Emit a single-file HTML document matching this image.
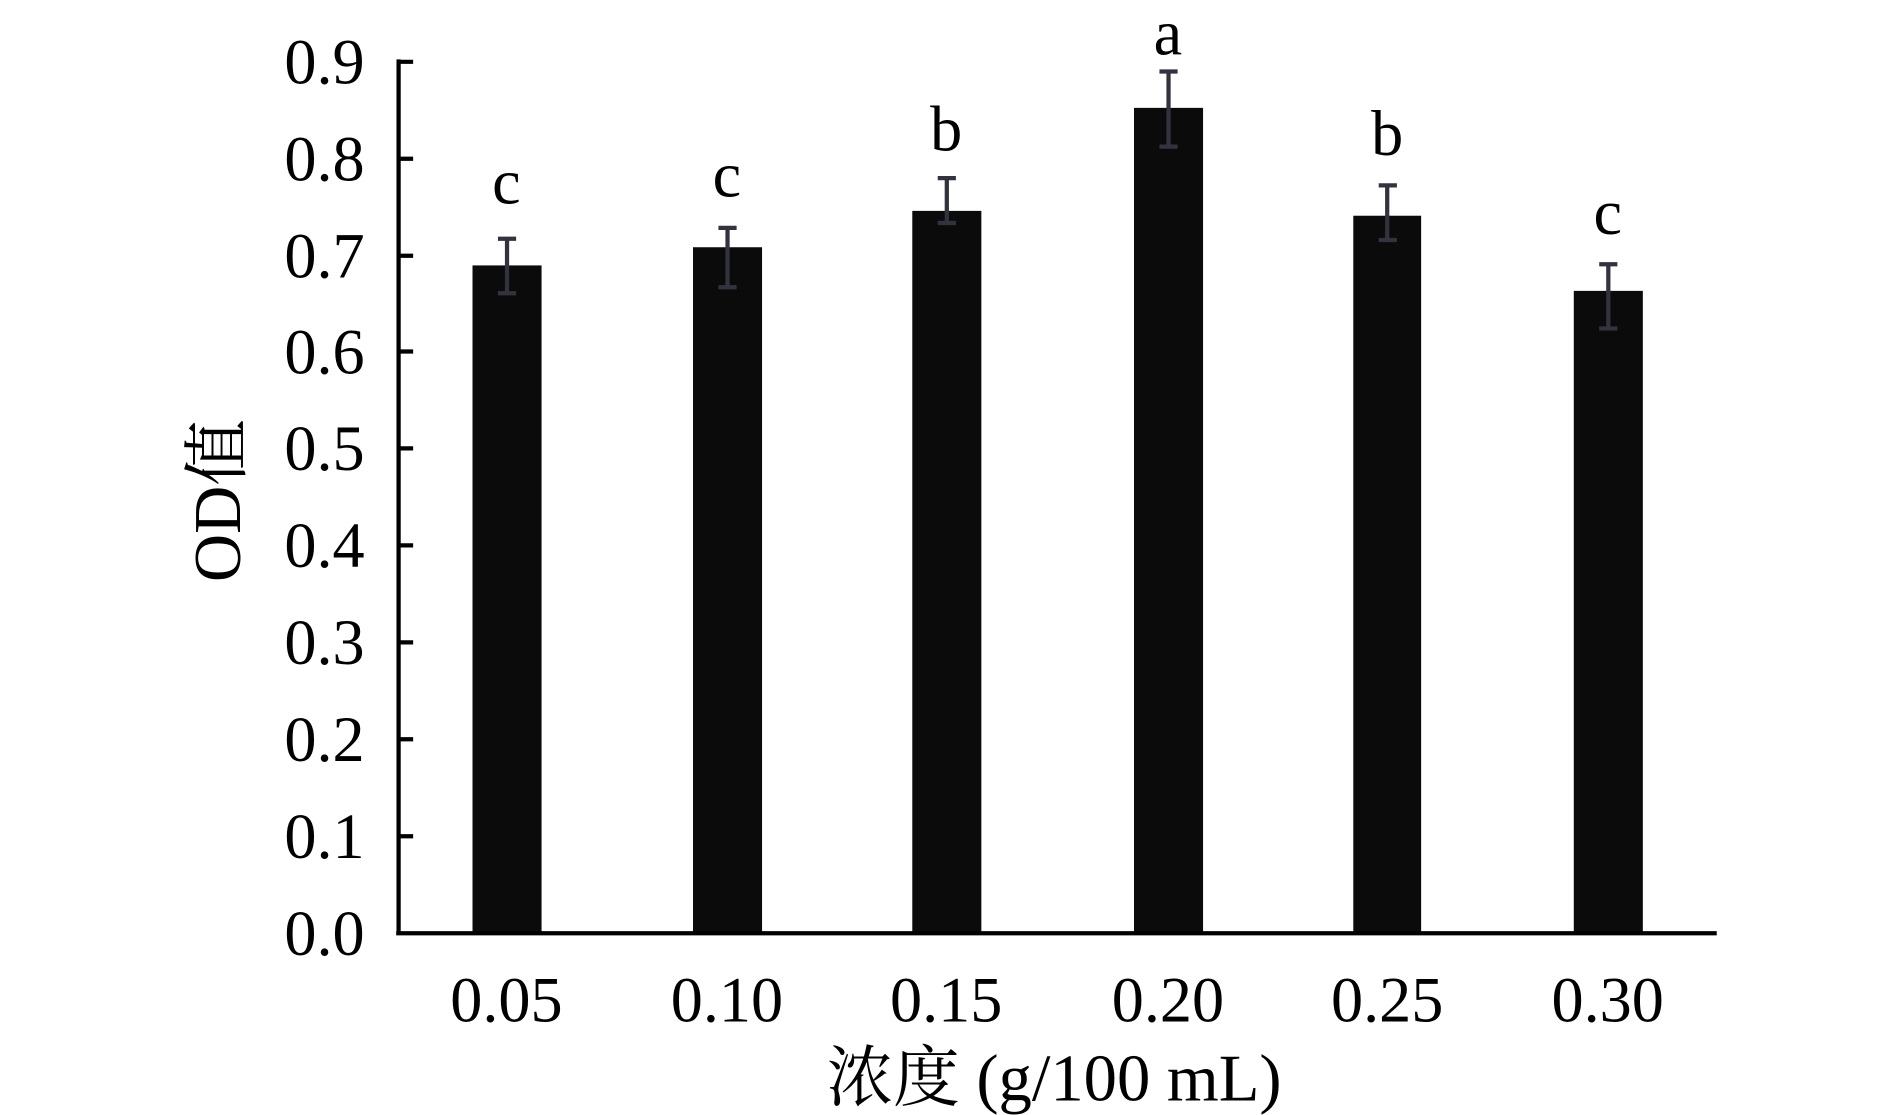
<!DOCTYPE html>
<html><head><style>html,body{margin:0;padding:0;background:#fff}svg{display:block}</style></head>
<body>
<svg width="1890" height="1115" viewBox="0 0 1560 920" preserveAspectRatio="none" xmlns="http://www.w3.org/2000/svg" font-family="'Liberation Serif','Noto Serif CJK SC',serif" fill="#000">
<rect width="1560" height="920" fill="#fff"/>
<g fill="#0b0b0b">
<rect x="390" y="219" width="57" height="551"/>
<rect x="572" y="204" width="57" height="566"/>
<rect x="753" y="174" width="57" height="596"/>
<rect x="936" y="89" width="57" height="681"/>
<rect x="1117" y="178" width="56" height="592"/>
<rect x="1299" y="240" width="57" height="530"/>
</g>
<g stroke="#33333f" stroke-width="3.5">
<path d="M418.5 197V242M411 197h15M411 242h15"/>
<path d="M600.5 188V237M593 188h15M593 237h15"/>
<path d="M781.5 147V184M774 147h15M774 184h15"/>
<path d="M964.5 59V121M957 59h15M957 121h15"/>
<path d="M1145 153V198M1138 153h15M1138 198h15"/>
<path d="M1327.5 218V271M1320 218h15M1320 271h15"/>
</g>
<g stroke="#000" stroke-width="3.5">
<path d="M329 49V771M327 770H1417"/>
<path d="M329 51h12M329 131h12M329 211h12M329 290h12M329 370h12M329 450h12M329 530h12M329 610h12M329 690h12"/>
</g>
<g font-size="53" text-anchor="end">
<text x="301" y="69">0.9</text><text x="301" y="149">0.8</text><text x="301" y="229">0.7</text>
<text x="301" y="308">0.6</text><text x="301" y="388">0.5</text><text x="301" y="468">0.4</text>
<text x="301" y="548">0.3</text><text x="301" y="628">0.2</text><text x="301" y="708">0.1</text>
<text x="301" y="788">0.0</text>
</g>
<g font-size="53" text-anchor="middle">
<text x="418" y="843">0.05</text><text x="600" y="843">0.10</text><text x="781" y="843">0.15</text>
<text x="964" y="843">0.20</text><text x="1145" y="843">0.25</text><text x="1327" y="843">0.30</text>
<text x="418" y="168">c</text><text x="600" y="162">c</text><text x="781" y="124">b</text>
<text x="964" y="45">a</text><text x="1145" y="128">b</text><text x="1327" y="193">c</text>
</g>
<g font-size="55" text-anchor="middle">
<text x="870" y="908">浓度 (g/100 mL)</text>
<text transform="translate(198,413) rotate(-90)">OD值</text>
</g>
</svg>
</body></html>
